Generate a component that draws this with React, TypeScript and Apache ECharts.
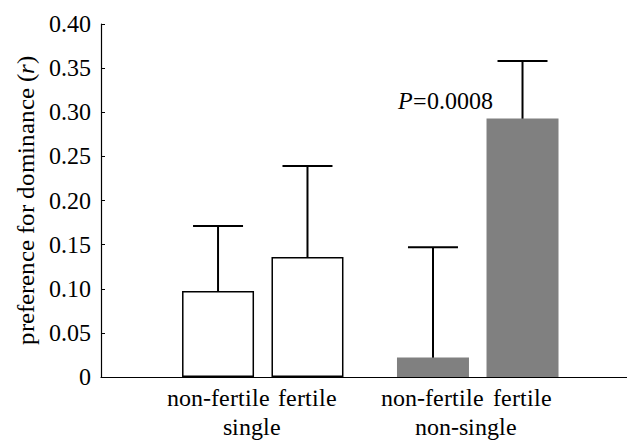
import React, { useEffect, useRef } from "react";
import * as echarts from "echarts";

// ---- data ----
const categories = ["non-fertile", "fertile", "non-fertile", "fertile"];
const groups = ["single", "non-single"];
const means = [0.0975, 0.136, 0.022, 0.293];
const lower = [0.024, 0.034, -0.103, 0.226];
const upper = [0.171, 0.239, 0.147, 0.358];
const pLabel = "0.0008";

// ---- layout (axis units) ----
const xPos = [1.315, 2.32, 3.73, 4.736];
const groupPos = [1.7, 4.1];
const X_MAX = 5.91;

const FONT = "LSerif, Liberation Serif, Times New Roman, serif";

const FONT_CSS = `
@font-face { font-family: "LSerif"; font-style: normal; font-weight: 400;
  src: local("Liberation Serif"), local("LiberationSerif"), local("Liberation Serif Regular"); }
@font-face { font-family: "LSerif"; font-style: italic; font-weight: 400;
  src: local("Liberation Serif Italic"), local("LiberationSerif-Italic"); }
`;

function buildOption(): any {
  const findIdx = (arr: number[], v: number) =>
    arr.findIndex((p) => Math.abs(p - v) < 1e-6);
  return {
    animation: false,
    backgroundColor: "#fff",
    grid: {
      left: 101,
      right: 0,
      top: 24,
      bottom: 64,
      containLabel: false,
      outerBoundsMode: "none",
    },
    xAxis: [
      {
        type: "value",
        min: 0,
        max: X_MAX,
        axisLine: { show: true, lineStyle: { color: "#000", width: 1.2 } },
        axisTick: { show: false },
        splitLine: { show: false },
        axisLabel: {
          customValues: xPos,
          margin: 9,
          color: "#000",
          fontSize: 24,
          fontFamily: FONT,
          formatter: (v: number) => categories[findIdx(xPos, v)] ?? "",
        },
      },
      {
        type: "value",
        min: 0,
        max: X_MAX,
        position: "bottom",
        axisLine: { show: false },
        axisTick: { show: false },
        splitLine: { show: false },
        axisLabel: {
          customValues: groupPos,
          margin: 38,
          color: "#000",
          fontSize: 24,
          fontFamily: FONT,
          formatter: (v: number) => groups[findIdx(groupPos, v)] ?? "",
        },
      },
    ],
    yAxis: {
      type: "value",
      min: 0,
      max: 0.4,
      interval: 0.05,
      name: "preference for dominance ({i|r})",
      nameLocation: "middle",
      nameGap: 60,
      nameTextStyle: {
        color: "#000",
        fontSize: 25,
        fontFamily: FONT,
        rich: {
          i: { fontStyle: "italic", fontSize: 25, fontFamily: FONT, color: "#000" },
        },
      },
      axisLine: { show: true, lineStyle: { color: "#000", width: 1.2 } },
      axisTick: { show: true, inside: true, length: 4, lineStyle: { color: "#000" } },
      splitLine: { show: false },
      axisLabel: {
        margin: 10,
        color: "#000",
        fontSize: 24,
        fontFamily: FONT,
        formatter: (v: number) => (v === 0 ? "0" : v.toFixed(2)),
      },
    },
    series: [
      {
        type: "bar",
        xAxisIndex: 0,
        barWidth: 72,
        data: means.map((v, i) => ({
          value: [xPos[i], v],
          itemStyle:
            i < 2
              ? { color: "#fff", borderColor: "#000", borderWidth: 1.5 }
              : { color: "#808080" },
        })),
      },
      {
        type: "custom",
        xAxisIndex: 0,
        clip: true,
        encode: { x: 0, y: [1, 2] },
        data: means.map((_, i) => [xPos[i], lower[i], upper[i]]),
        renderItem: (params: any, api: any) => {
          const x = api.value(0);
          const lo = api.coord([x, api.value(1)]);
          const hi = api.coord([x, api.value(2)]);
          const half = 25;
          const style = { stroke: "#000", lineWidth: 2 };
          return {
            type: "group",
            children: [
              { type: "line", shape: { x1: lo[0], y1: lo[1], x2: hi[0], y2: hi[1] }, style },
              { type: "line", shape: { x1: hi[0] - half, y1: hi[1], x2: hi[0] + half, y2: hi[1] }, style },
              { type: "line", shape: { x1: lo[0] - half, y1: lo[1], x2: lo[0] + half, y2: lo[1] }, style },
            ],
          };
        },
      },
    ],
    graphic: [
      {
        type: "text",
        left: 398,
        top: 89,
        style: { text: "P", fill: "#000", fontSize: 24, fontStyle: "italic", fontFamily: FONT },
      },
      {
        type: "text",
        left: 413,
        top: 89,
        style: { text: "=" + pLabel, fill: "#000", fontSize: 24, fontFamily: FONT },
      },
    ],
  };
}

export default function App() {
  const ref = useRef<HTMLDivElement>(null);

  useEffect(() => {
    if (!ref.current) return;
    const chart = echarts.init(ref.current, undefined, { renderer: "svg" });
    chart.setOption(buildOption());
    let alive = true;
    const fonts: any = (document as any).fonts;
    if (fonts && fonts.load) {
      Promise.all([fonts.load("24px LSerif"), fonts.load("italic 24px LSerif")])
        .catch(() => null)
        .then(() => {
          if (!alive) return;
          chart.clear();
          chart.setOption(buildOption(), true);
        });
    }
    return () => {
      alive = false;
      chart.dispose();
    };
  }, []);

  return (
    <>
      <style>{FONT_CSS}</style>
      <div
        ref={ref}
        style={{ position: "fixed", left: 0, top: 0, width: 627, height: 441, background: "#fff" }}
      />
    </>
  );
}
